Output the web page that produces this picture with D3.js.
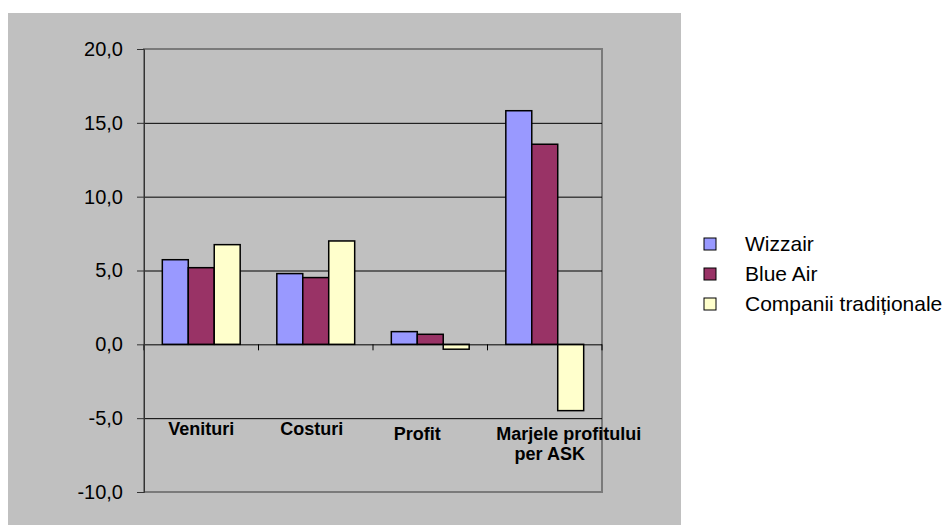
<!DOCTYPE html>
<html>
<head>
<meta charset="utf-8">
<script src="https://cdn.jsdelivr.net/npm/d3@7"></script>
<style>
  body { margin: 0; background: #fff; }
  text { font-family: "Liberation Sans", Arial, sans-serif; }
</style>
</head>
<body>
<svg width="945" height="525"></svg>
<script>
// data
var categories = [["Venituri"], ["Costuri"], ["Profit"], ["Marjele profitului", "per ASK"]];
var seriesNames = ["Wizzair", "Blue Air", "Companii tradiționale"];
var wizzair = [5.73, 4.79, 0.86, 15.82];
var blueAir = [5.19, 4.52, 0.68, 13.55];
var traditionale = [6.75, 7.0, -0.33, -4.49];
var yTicks = [-10, -5, 0, 5, 10, 15, 20];

var seriesValues = [wizzair, blueAir, traditionale];
var colors = ["#9999ff", "#993366", "#ffffcc"];

var svg = d3.select("svg");
var pLeft = 144, pRight = 602, pTop = 49, pBottom = 492;

// chart area
svg.append("rect").attr("x", 8).attr("y", 13).attr("width", 673).attr("height", 512).attr("fill", "#c0c0c0");

var y = d3.scaleLinear().domain([-10, 20]).range([pBottom, pTop]);
var x0 = d3.scaleBand().domain(d3.range(categories.length)).range([pLeft, pRight]);
var pad = x0.bandwidth() * 0.16;
var x1 = d3.scaleBand().domain(d3.range(seriesNames.length)).range([pad, x0.bandwidth() - pad]);

var loc = d3.formatLocale({decimal: ",", thousands: ".", grouping: [3], currency: ["", ""], minus: "-"});
var fmt = loc.format(".1f");

// plot border
svg.append("rect").attr("x", pLeft).attr("y", pTop).attr("width", pRight - pLeft).attr("height", pBottom - pTop)
  .attr("fill", "none").attr("stroke", "#7a7a7a").attr("stroke-width", 2);

// gridlines
svg.append("g").selectAll("line").data(yTicks.filter(function(d){ return d > -10 && d < 20 && d != 0; }))
  .enter().append("line")
  .attr("x1", pLeft).attr("x2", pRight)
  .attr("y1", function(d){ return y(d) + 0.5; }).attr("y2", function(d){ return y(d) + 0.5; })
  .attr("stroke", "#000").attr("stroke-width", 1);

// bars
var groups = svg.append("g").selectAll("g").data(seriesValues).enter().append("g")
  .attr("fill", function(d, i){ return colors[i]; });
groups.each(function(vals, si){
  d3.select(this).selectAll("rect").data(vals).enter().append("rect")
    .attr("x", function(d, ci){ return x0(ci) + x1(si); })
    .attr("width", x1.bandwidth())
    .attr("y", function(d){ return y(Math.max(0, d)); })
    .attr("height", function(d){ return Math.abs(y(d) - y(0)); })
    .attr("stroke", "#000").attr("stroke-width", 1.5);
});

// zero axis with category ticks
svg.append("line").attr("x1", pLeft).attr("x2", pRight).attr("y1", y(0) + 0.5).attr("y2", y(0) + 0.5)
  .attr("stroke", "#000");
svg.append("g").selectAll("line").data(d3.range(categories.length + 1)).enter().append("line")
  .attr("x1", function(i){ return pLeft + i * x0.bandwidth(); })
  .attr("x2", function(i){ return pLeft + i * x0.bandwidth(); })
  .attr("y1", y(0)).attr("y2", y(0) + 6)
  .attr("stroke", "#000");

// value axis
var yAxis = d3.axisLeft(y).tickValues(yTicks).tickFormat(fmt).tickSize(7).tickPadding(14);
var ag = svg.append("g").attr("transform", "translate(" + pLeft + ",0)").call(yAxis);
ag.select(".domain").attr("stroke", "#333");
ag.selectAll(".tick line").attr("stroke", "#333");
ag.selectAll(".tick text").attr("font-size", 20).attr("fill", "#000")
  .attr("font-family", "Liberation Sans, Arial, sans-serif");

// category labels (slightly uneven like the original)
var nudgeX = [[0], [-4], [-13], [24, 5]];
var baseY = [435, 435, 440, 440];
categories.forEach(function(lines, ci){
  lines.forEach(function(t, li){
    svg.append("text")
      .attr("x", x0(ci) + x0.bandwidth() / 2 + nudgeX[ci][li])
      .attr("y", baseY[ci] + li * 19.5)
      .attr("text-anchor", "middle")
      .attr("font-size", 18).attr("font-weight", "bold")
      .text(t);
  });
});

// legend
var lg = svg.append("g").selectAll("g").data(seriesNames).enter().append("g")
  .attr("transform", function(d, i){ return "translate(704," + (244 + i * 30) + ")"; });
lg.append("rect").attr("x", 0).attr("y", -6).attr("width", 12).attr("height", 12)
  .attr("fill", function(d, i){ return colors[i]; }).attr("stroke", "#000");
lg.append("text").attr("x", 41).attr("y", 7).attr("font-size", 21).text(function(d){ return d; });
</script>
</body>
</html>
